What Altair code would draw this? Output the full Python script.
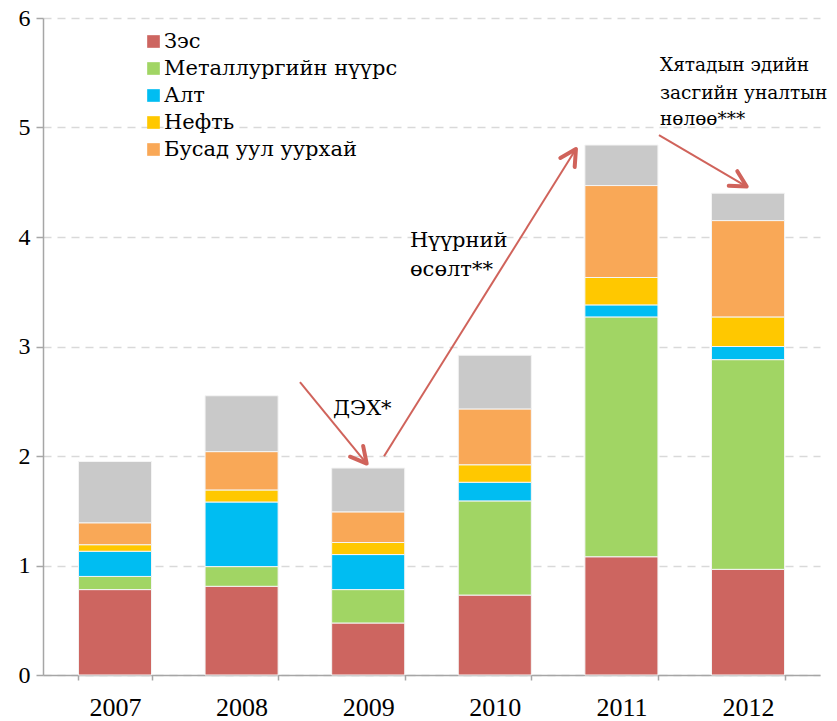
import altair as alt
import pandas as pd

years = ["2007", "2008", "2009", "2010", "2011", "2012"]
categories = ["Зэс", "Металлургийн нүүрс", "Алт", "Нефть", "Бусад уул уурхай", "Бусад"]
copper = [0.78, 0.81, 0.475, 0.73, 1.08, 0.965]
coal = [0.12, 0.18, 0.305, 0.86, 2.19, 1.915]
gold = [0.23, 0.59, 0.32, 0.17, 0.11, 0.12]
oil = [0.06, 0.11, 0.11, 0.16, 0.25, 0.27]
other_mining = [0.20, 0.35, 0.28, 0.51, 0.84, 0.88]
other = [0.56, 0.51, 0.40, 0.49, 0.37, 0.25]
colors = ["#CD6560", "#A1D564", "#00BDF2", "#FFC800", "#F9A857", "#C9C9C9"]

# annotation arrows (x in category-index units, y in chart units)
arrow_x1 = [1.461, 2.125, 4.297]
arrow_y1 = [2.674, 1.998, 4.931]
arrow_x2 = [1.988, 3.641, 4.990]
arrow_y2 = [1.931, 4.803, 4.461]
arrow_angle = [50.5, 302.1, 30.3]

note_text = ["ДЭХ*", "Нүүрний", "өсөлт**", "Хятадын эдийн", "засгийн уналтын", "нөлөө***"]
note_x = [1.722, 2.330, 2.330, 4.305, 4.305, 4.305]
note_y = [2.427, 3.959, 3.702, 5.573, 5.317, 5.075]
note_size = [21, 21, 21, 18.5, 18.5, 18.5]

series = [copper, coal, gold, oil, other_mining, other]
rows = []
for ci, (cat, vals) in enumerate(zip(categories, series)):
    for yr, v in zip(years, vals):
        rows.append({"year": yr, "cat": cat, "value": v, "ord": ci})
df = pd.DataFrame(rows)

arrows = pd.DataFrame({"x1": arrow_x1, "y1": arrow_y1, "x2": arrow_x2,
                       "y2": arrow_y2, "angle": arrow_angle})
notes = pd.DataFrame({"t": note_text, "x": note_x, "y": note_y, "s": note_size})

FONT = "Liberation Serif"
FONT2 = "DejaVu Serif"
ARROW = "#D0635B"

yscale = alt.Scale(domain=[0, 6], nice=False)

bars = alt.Chart(df).mark_bar(stroke="#F4F4F4", strokeWidth=1).encode(
    x=alt.X("year:N", title=None, sort=years,
            scale=alt.Scale(paddingInner=0.423, paddingOuter=0.28),
            axis=alt.Axis(labelAngle=0, tickBand="extent", tickSize=5,
                          labelPadding=14, labelFontSize=26,
                          domainColor="#A6A6A6", domainWidth=1.5,
                          tickColor="#A6A6A6", tickWidth=1.5, grid=False)),
    y=alt.Y("value:Q", stack="zero", title=None, scale=yscale,
            axis=alt.Axis(values=[0, 1, 2, 3, 4, 5, 6], format="d",
                          tickSize=7, labelPadding=6, labelFontSize=24,
                          domainColor="#A6A6A6", domainWidth=1.5,
                          tickColor="#A6A6A6", tickWidth=1.5,
                          grid=True, gridColor="#D9D9D9", gridDash=[8, 6],
                          gridWidth=1.5)),
    color=alt.Color("cat:N", sort=categories,
                    scale=alt.Scale(domain=categories, range=colors),
                    legend=alt.Legend(title=None, values=categories[:5],
                                      orient="none", legendX=100, legendY=13,
                                      symbolType="square", symbolSize=160,
                                      symbolStrokeWidth=0, rowPadding=5,
                                      labelOffset=0, labelLimit=500)),
    order=alt.Order("ord:Q", sort="ascending"),
)

xa = alt.Scale(domain=[-0.569, 5.569], nice=False, zero=False)

shafts = alt.Chart(arrows).mark_rule(color=ARROW, strokeWidth=2).encode(
    x=alt.X("x1:Q", scale=xa, axis=None),
    y=alt.Y("y1:Q", scale=yscale, title=None),
    x2="x2:Q", y2="y2:Q",
)

heads = alt.Chart(arrows).mark_point(
    shape="M-0.88,-0.47L0,0L-0.88,0.47", filled=False, color=ARROW,
    strokeWidth=4, size=1300, opacity=1, strokeCap="round", strokeJoin="round",
).encode(
    x=alt.X("x2:Q", scale=xa, axis=None),
    y=alt.Y("y2:Q", scale=yscale, title=None),
    angle=alt.Angle("angle:Q", scale=None),
)

texts = alt.Chart(notes).mark_text(
    align="left", baseline="middle", font=FONT2, color="black"
).encode(
    x=alt.X("x:Q", scale=xa, axis=None),
    y=alt.Y("y:Q", scale=yscale, title=None),
    text="t:N",
    size=alt.Size("s:Q", scale=None, legend=None),
)

annot = alt.layer(shafts, heads, texts)

chart = alt.layer(bars, annot).resolve_scale(x="independent").properties(
    width=777, height=657,
    autosize=alt.AutoSizeParams(type="none"),
    padding={"left": 35, "top": 10, "right": 9, "bottom": 45},
).configure_view(stroke=None).configure_axis(
    labelFont=FONT, labelColor="black",
).configure_legend(
    labelFont=FONT2, labelFontSize=21, labelColor="black",
)

chart.save("out.html", embed_options={"renderer": "svg", "actions": False})
